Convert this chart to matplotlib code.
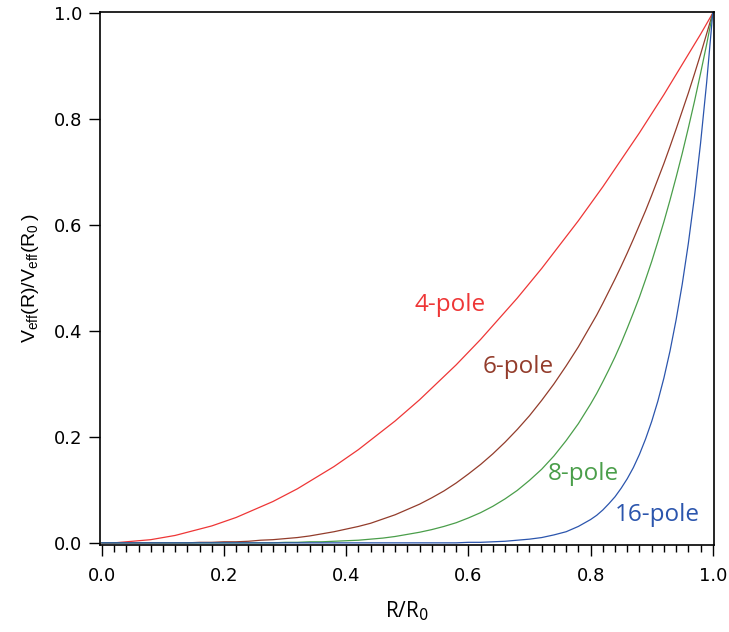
import matplotlib
matplotlib.use("Agg")
import matplotlib.pyplot as plt
from matplotlib.ticker import MultipleLocator

# R/R0 sample positions (finer steps near the wall where the curves get steep)
r = [0.00, 0.02, 0.04, 0.06, 0.08, 0.10, 0.12, 0.14, 0.16, 0.18,
     0.20, 0.22, 0.24, 0.26, 0.28, 0.30, 0.32, 0.34, 0.36, 0.38,
     0.40, 0.42, 0.44, 0.46, 0.48, 0.50, 0.52, 0.54, 0.56, 0.58,
     0.60, 0.62, 0.64, 0.66, 0.68, 0.70, 0.72, 0.74, 0.76, 0.78,
     0.80, 0.81, 0.82, 0.83, 0.84, 0.85, 0.86, 0.87, 0.88, 0.89,
     0.90, 0.91, 0.92, 0.93, 0.94, 0.95, 0.96, 0.97, 0.98, 0.99, 1.00]

v4 = [0.000, 0.000, 0.002, 0.004, 0.006, 0.010, 0.014, 0.020, 0.026, 0.032,
      0.040, 0.048, 0.058, 0.068, 0.078, 0.090, 0.102, 0.116, 0.130, 0.144,
      0.160, 0.176, 0.194, 0.212, 0.230, 0.250, 0.270, 0.292, 0.314, 0.336,
      0.360, 0.384, 0.410, 0.436, 0.462, 0.490, 0.518, 0.548, 0.578, 0.608,
      0.640, 0.656, 0.672, 0.689, 0.706, 0.723, 0.740, 0.757, 0.774, 0.792,
      0.810, 0.828, 0.846, 0.865, 0.884, 0.903, 0.922, 0.941, 0.960, 0.980, 1.000]

v6 = [0.000, 0.000, 0.000, 0.000, 0.000, 0.000, 0.000, 0.000, 0.001, 0.001,
      0.002, 0.002, 0.003, 0.005, 0.006, 0.008, 0.010, 0.013, 0.017, 0.021,
      0.026, 0.031, 0.037, 0.045, 0.053, 0.063, 0.073, 0.085, 0.098, 0.113,
      0.130, 0.148, 0.168, 0.190, 0.214, 0.240, 0.269, 0.300, 0.334, 0.370,
      0.410, 0.430, 0.452, 0.475, 0.498, 0.522, 0.547, 0.573, 0.600, 0.627,
      0.656, 0.686, 0.716, 0.748, 0.781, 0.815, 0.849, 0.885, 0.922, 0.961, 1.000]

v8 = [0.000, 0.000, 0.000, 0.000, 0.000, 0.000, 0.000, 0.000, 0.000, 0.000,
      0.000, 0.000, 0.000, 0.000, 0.000, 0.001, 0.001, 0.002, 0.002, 0.003,
      0.004, 0.005, 0.007, 0.009, 0.012, 0.016, 0.020, 0.025, 0.031, 0.038,
      0.047, 0.057, 0.069, 0.083, 0.099, 0.118, 0.139, 0.164, 0.193, 0.225,
      0.262, 0.282, 0.304, 0.327, 0.351, 0.377, 0.405, 0.434, 0.464, 0.497,
      0.531, 0.568, 0.606, 0.647, 0.690, 0.735, 0.783, 0.833, 0.886, 0.941, 1.000]

v16 = [0.000, 0.000, 0.000, 0.000, 0.000, 0.000, 0.000, 0.000, 0.000, 0.000,
       0.000, 0.000, 0.000, 0.000, 0.000, 0.000, 0.000, 0.000, 0.000, 0.000,
       0.000, 0.000, 0.000, 0.000, 0.000, 0.000, 0.000, 0.000, 0.000, 0.000,
       0.001, 0.001, 0.002, 0.003, 0.005, 0.007, 0.010, 0.015, 0.021, 0.031,
       0.044, 0.052, 0.062, 0.074, 0.087, 0.103, 0.121, 0.142, 0.167, 0.196,
       0.229, 0.267, 0.311, 0.362, 0.421, 0.488, 0.565, 0.653, 0.754, 0.869, 1.000]

names = ["4-pole", "6-pole", "8-pole", "16-pole"]
colors = ["#ee3636", "#933c2b", "#4a9e4a", "#2b55ad"]
label_xy = [(0.512, 0.449), (0.624, 0.332), (0.730, 0.130), (0.840, 0.053)]

fig = plt.figure(figsize=(7.29, 6.32), dpi=100)
ax = fig.add_axes([0.1372, 0.1377, 0.8422, 0.8433])

for vals, name, c, (tx, ty) in zip([v4, v6, v8, v16], names, colors, label_xy):
    ax.plot(r, vals, color=c, lw=0.9)
    ax.text(tx, ty, name, color=c, fontsize=17.5, family="Open Sans",
            ha="left", va="center")

ax.set_xlim(-0.003, 1.002)
ax.set_ylim(-0.004, 1.002)

ax.xaxis.set_major_locator(MultipleLocator(0.2))
ax.xaxis.set_minor_locator(MultipleLocator(0.02))
ax.yaxis.set_major_locator(MultipleLocator(0.2))
ax.xaxis.set_major_formatter(plt.FormatStrFormatter("%.1f"))
ax.yaxis.set_major_formatter(plt.FormatStrFormatter("%.1f"))

ax.tick_params(axis="both", which="major", direction="out", length=8,
               width=1.0, labelsize=13, pad=5)
ax.tick_params(axis="x", which="minor", direction="out", length=5, width=1.0)
ax.tick_params(axis="x", which="major", pad=8)

for s in ax.spines.values():
    s.set_linewidth(1.2)

ax.set_xlabel("R/R$_0$", fontsize=15, family="Open Sans", labelpad=10)
ax.set_ylabel(r"$\mathregular{V_{eff}(R)/V_{eff}(R_{0}\,)}$",
              fontsize=14, family="Liberation Sans", labelpad=9)

fig.savefig("out.png", dpi=100)
